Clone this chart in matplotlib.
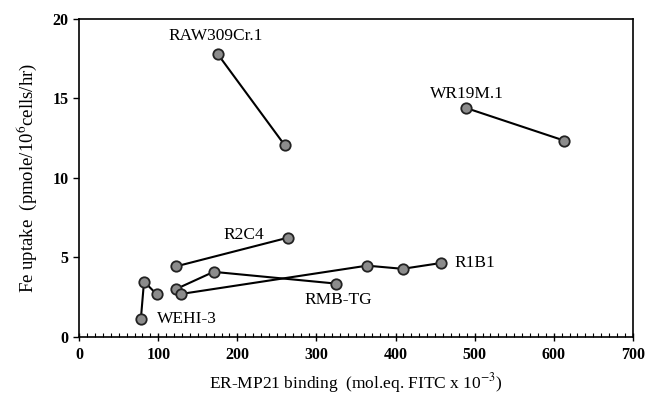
import matplotlib
matplotlib.use("Agg")
import matplotlib.pyplot as plt
from matplotlib.ticker import MultipleLocator

plt.rcParams["font.family"] = ["Liberation Serif", "DejaVu Serif"]
plt.rcParams["mathtext.fontset"] = "stix"

# cell lines: ER-MP21 binding (x) vs Fe uptake (y)
raw_x = [175, 260]
raw_y = [17.8, 12.05]
wr_x = [489, 613]
wr_y = [14.4, 12.35]
r2c4_x = [123, 264]
r2c4_y = [4.44, 6.24]
wehi_x = [78, 82, 98]
wehi_y = [1.13, 3.48, 2.68]
rmb_x = [123, 170, 325]
rmb_y = [3.02, 4.09, 3.35]
r1b1_x = [129, 364, 409, 458]
r1b1_y = [2.7, 4.48, 4.28, 4.65]

labels = [
    ("RAW309Cr.1", 173, 18.9, "center"),
    ("WR19M.1", 490, 15.3, "center"),
    ("R2C4", 208, 6.4, "center"),
    ("RMB-TG", 327, 2.35, "center"),
    ("R1B1", 475, 4.65, "left"),
    ("WEHI-3", 99, 1.13, "left"),
]

fig = plt.figure(figsize=(6.49, 3.94), dpi=100)
ax = fig.add_axes([0.122, 0.145, 0.853, 0.807])

for xs, ys in [(raw_x, raw_y), (wr_x, wr_y), (r2c4_x, r2c4_y),
               (wehi_x, wehi_y), (rmb_x, rmb_y), (r1b1_x, r1b1_y)]:
    ax.plot(xs, ys, color="black", lw=1.5, marker="o", ms=7.5,
            mfc="#8c8c8c", mec="#222222", mew=1.3)

for text, x, y, ha in labels:
    ax.text(x, y, text, ha=ha, va="center", fontsize=12.5)

ax.set_xlim(0, 700)
ax.set_ylim(0, 20)
ax.xaxis.set_major_locator(MultipleLocator(100))
ax.xaxis.set_minor_locator(MultipleLocator(10))
ax.yaxis.set_major_locator(MultipleLocator(5))
ax.tick_params(axis="x", which="major", direction="inout", length=6, width=1,
               labelsize=11.5, pad=4)
ax.tick_params(axis="x", which="minor", direction="in", length=3, width=0.8)
ax.tick_params(axis="y", which="major", direction="out", length=4, width=1,
               labelsize=11.5)
for lab in ax.get_xticklabels() + ax.get_yticklabels():
    lab.set_fontweight("bold")
for s in ax.spines.values():
    s.set_linewidth(1.2)

ax.set_xlabel("ER-MP21 binding  (mol.eq. FITC x 10$^{-3}$)", fontsize=12.5, labelpad=6)
ax.set_ylabel("Fe uptake  (pmole/10$^{6}$cells/hr)", fontsize=13.5, labelpad=10)

fig.savefig("out.png", dpi=100)
